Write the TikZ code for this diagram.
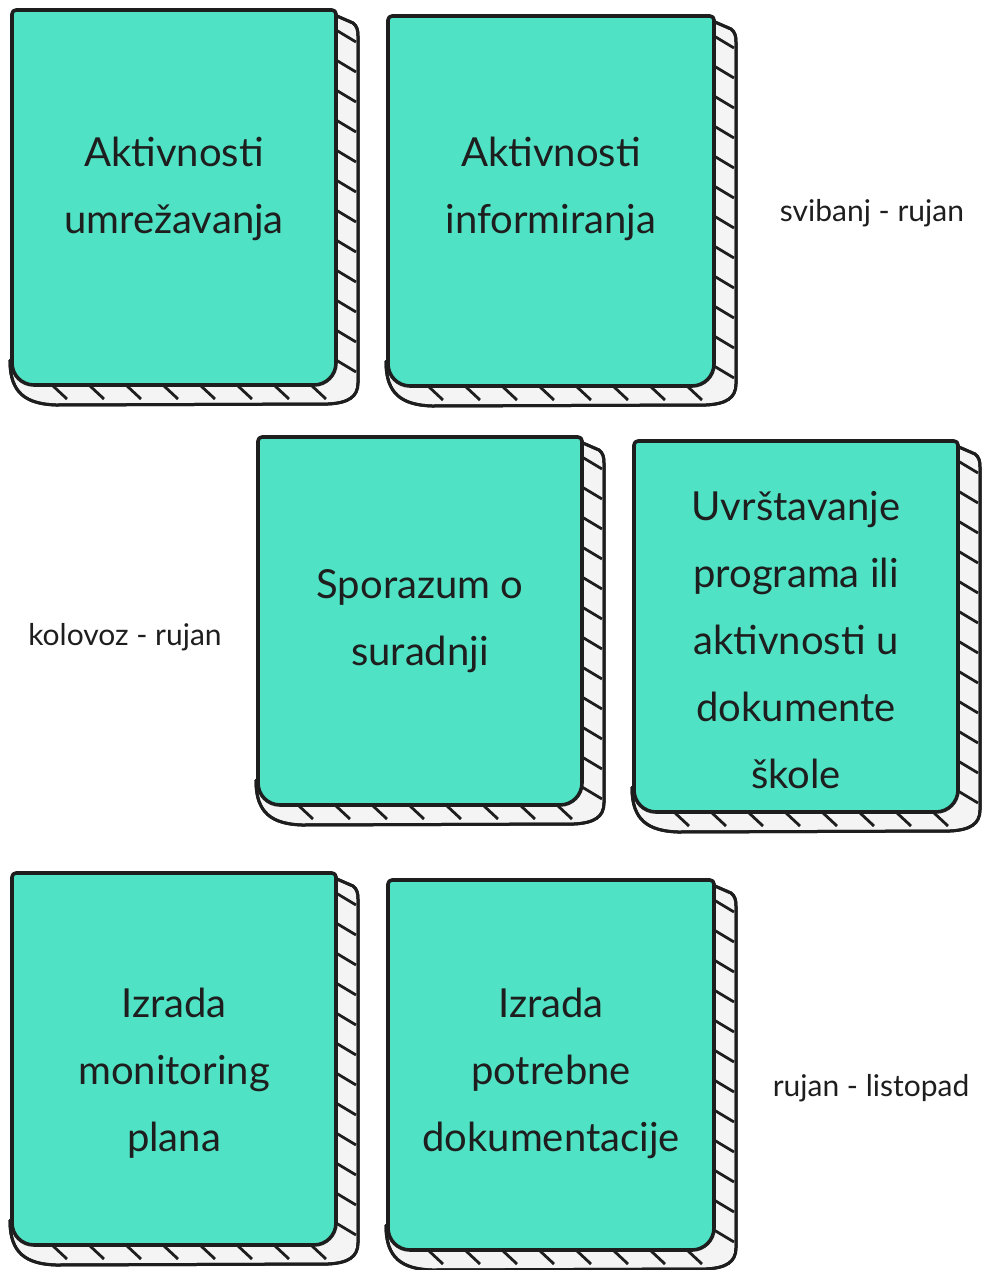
\documentclass[tikz,border=0pt]{standalone}
\usepackage{fontspec}
\setmainfont{Lato}
\definecolor{cardteal}{RGB}{79,226,196}
\definecolor{sidegray}{RGB}{244,244,244}
\definecolor{inkblack}{RGB}{30,30,30}
\tikzset{
  sidefill/.style={fill=sidegray,draw=inkblack,line width=3pt,line join=round},
  hatchline/.style={draw=inkblack,line width=2.8pt},
  frontface/.style={fill=cardteal,draw=inkblack,line width=3.6pt,line join=round},
  cardtext/.style={align=center,text=inkblack,font=\fontsize{40}{67}\selectfont},
  datelabel/.style={text=inkblack,font=\fontsize{30}{34}\selectfont}
}
\newcommand\sidepath[2]{(#1-6,3) -- (#1+17,13) .. controls (#1+21,16) and (#1+22,20) .. (#1+22,26) -- (#1+22,#2-2) .. controls (#1+22,#2+12) and (#1+12,#2+18) .. (#1-8,#2+19) -- (44,#2+20) .. controls (14,#2+19) and (-2,#2+8) .. (-2,#2-24) -- cycle}
\newcommand\stickycard[7]{%
\begin{scope}[shift={(#2,#3)}]
  \path[sidefill] \sidepath{#4}{#5};
  \begin{scope}
    \clip \sidepath{#4}{#5};
    \foreach \yy in {20,50,...,#5} \draw[hatchline] (#4,\yy) -- ++(20,12);
    \foreach \xx in {40,77,...,#4} \draw[hatchline] (\xx,#5) -- ++(15,14);
  \end{scope}
  \path[draw=inkblack,line width=3pt] \sidepath{#4}{#5};
  \path[frontface] (0,30) [rounded corners=4] -- (0,0) -- (#4,0) [rounded corners=22] -- (#4,#5) -- (0,#5) -- cycle;
  \node[cardtext] (#1) at (#4/2,#6) {#7};
\end{scope}}
\begin{document}
\begin{tikzpicture}[x=1pt,y=-1pt]
\useasboundingbox (0,0) rectangle (989,1270);
\stickycard{c1}{12}{10}{324}{375}{179}{Aktivnosti\\umrežavanja}
\stickycard{c2}{388}{16}{326}{370}{173}{Aktivnosti\\informiranja}
\stickycard{c3}{258}{437}{324}{368}{184}{Sporazum o\\suradnji}
\stickycard{c4}{634}{441}{324}{371}{199}{Uvrštavanje\\programa ili\\aktivnosti u\\dokumente\\škole}
\stickycard{c5}{12}{873}{324}{372}{200}{Izrada\\monitoring\\plana}
\stickycard{c6}{388}{880}{326}{370}{193}{Izrada\\potrebne\\dokumentacije}
\node[datelabel] (d1) at (872,213) {svibanj - rujan};
\node[datelabel] (d2) at (125,637) {kolovoz - rujan};
\node[datelabel] (d3) at (871,1088) {rujan - listopad};
\end{tikzpicture}
\end{document}
